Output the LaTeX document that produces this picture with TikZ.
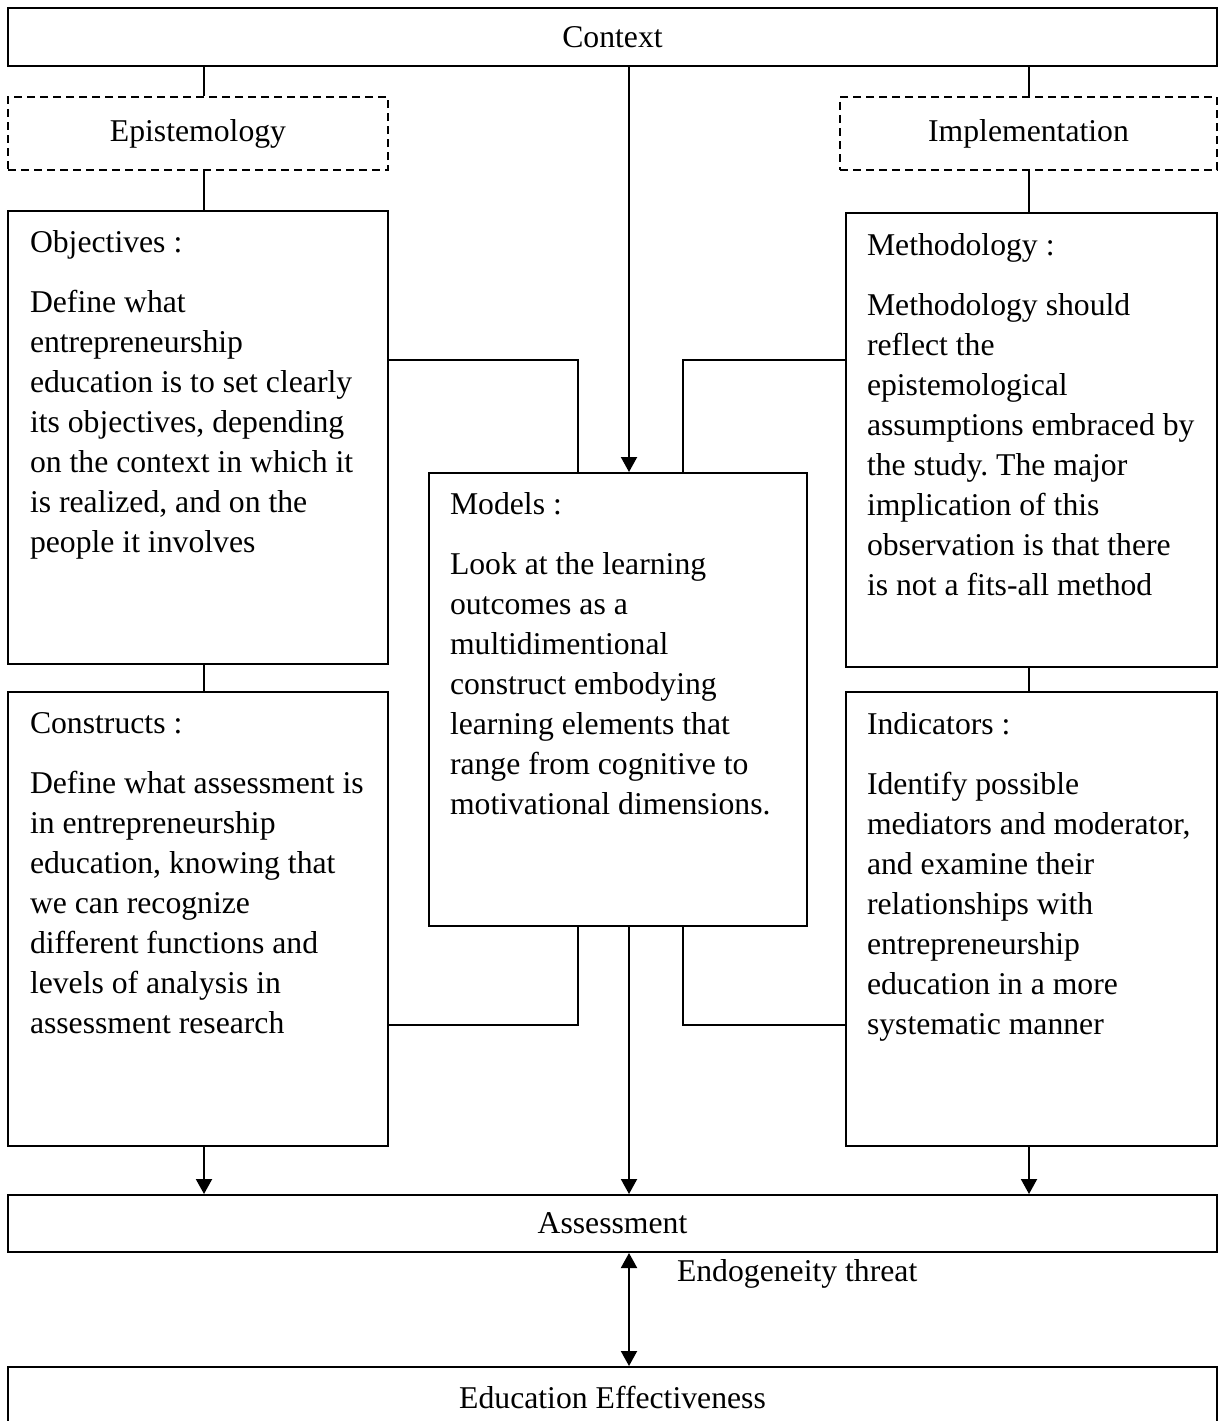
\documentclass[tikz,border=0pt]{standalone}
\usepackage{fontspec}
\setmainfont{Liberation Serif}
\usetikzlibrary{arrows.meta}
\frenchspacing

\begin{document}
\begin{tikzpicture}[x=1pt, y=-1pt, line width=2pt,
	font=\fontsize{31.7pt}{40pt}\selectfont,
	box/.style={draw, rectangle, inner sep=0pt},
	dashbox/.style={box, dash pattern=on 8pt off 5pt},
	boxtext/.style={anchor=north west, inner sep=0pt, align=left},
	tip/.style={-{Triangle[length=15pt, width=16pt]}},
	twotip/.style={{Triangle[length=15pt, width=16pt]}-{Triangle[length=15pt, width=16pt]}}]

	\useasboundingbox (0,0) rectangle (1218,1421);

	% axes of the connectors
	\coordinate (lft) at (204,0);
	\coordinate (mid) at (629,0);
	\coordinate (rgt) at (1029,0);
	\coordinate (ml) at (578,0);
	\coordinate (mr) at (683,0);
	\coordinate (up) at (0,360);
	\coordinate (dn) at (0,1025);

	\node[box, minimum width=1209pt, minimum height=58pt] (ctx) at (612.5,37) {Context};
	\node[dashbox, minimum width=380pt, minimum height=73pt] (epi) at (198,133.5) {Epistemology};
	\node[dashbox, minimum width=377pt, minimum height=73pt] (imp) at (1028.5,133.5) {Implementation};

	\node[box, minimum width=380pt, minimum height=453pt] (obj) at (198,437.5) {};
	\node[box, minimum width=371pt, minimum height=454pt] (meth) at (1031.5,440) {};
	\node[box, minimum width=378pt, minimum height=453pt] (mod) at (618,699.5) {};
	\node[box, minimum width=380pt, minimum height=454pt] (cons) at (198,919) {};
	\node[box, minimum width=371pt, minimum height=454pt] (ind) at (1031.5,919) {};

	\node[boxtext] (objtxt) at ([shift={(22pt,-19.5pt)}]obj.north west) {Objectives :\\[20pt]
		Define what\\ entrepreneurship\\ education is to set clearly\\ its objectives, depending\\
		on the context in which it\\ is realized, and on the\\ people it involves};
	\node[boxtext] (methtxt) at ([shift={(21pt,-20.5pt)}]meth.north west) {Methodology :\\[20pt]
		Methodology should\\ reflect the\\ epistemological\\ assumptions embraced by\\
		the study. The major\\ implication of this\\ observation is that there\\ is not a fits-all method};
	\node[boxtext] (modtxt) at ([shift={(21pt,-19.5pt)}]mod.north west) {Models :\\[20pt]
		Look at the learning\\ outcomes as a\\ multidimentional\\ construct embodying\\
		learning elements that\\ range from cognitive to\\ motivational dimensions.};
	\node[boxtext] (constxt) at ([shift={(22pt,-20pt)}]cons.north west) {Constructs :\\[20pt]
		Define what assessment is\\ in entrepreneurship\\ education, knowing that\\ we can recognize\\
		different functions and\\ levels of analysis in\\ assessment research};
	\node[boxtext] (indtxt) at ([shift={(21pt,-20pt)}]ind.north west) {Indicators :\\[20pt]
		Identify possible\\ mediators and moderator,\\ and examine their\\ relationships with\\
		entrepreneurship\\ education in a more\\ systematic manner};

	\node[box, minimum width=1209pt, minimum height=57pt] (asmt) at (612.5,1223.5) {Assessment};
	\node[box, minimum width=1209pt, minimum height=60pt] (eff) at (612.5,1397) {Education Effectiveness};

	\draw (ctx.south -| lft) -- (epi.north -| lft);
	\draw (epi.south -| lft) -- (obj.north -| lft);
	\draw (obj.south -| lft) -- (cons.north -| lft);
	\draw[tip] (cons.south -| lft) -- (asmt.north -| lft);

	\draw (ctx.south -| rgt) -- (imp.north -| rgt);
	\draw (imp.south -| rgt) -- (meth.north -| rgt);
	\draw (meth.south -| rgt) -- (ind.north -| rgt);
	\draw[tip] (ind.south -| rgt) -- (asmt.north -| rgt);

	\draw[tip] (ctx.south -| mid) -- (mod.north -| mid);
	\draw[tip] (mod.south -| mid) -- (asmt.north -| mid);
	\draw[twotip] (asmt.south -| mid) -- (eff.north -| mid)
		node[pos=.185, anchor=west, xshift=47pt, inner sep=0pt] (endo) {Endogeneity threat};

	\draw (obj.east |- up) -| (mod.north -| ml);
	\draw (meth.west |- up) -| (mod.north -| mr);
	\draw (mod.south -| ml) |- (cons.east |- dn);
	\draw (mod.south -| mr) |- (ind.west |- dn);
\end{tikzpicture}
\end{document}
